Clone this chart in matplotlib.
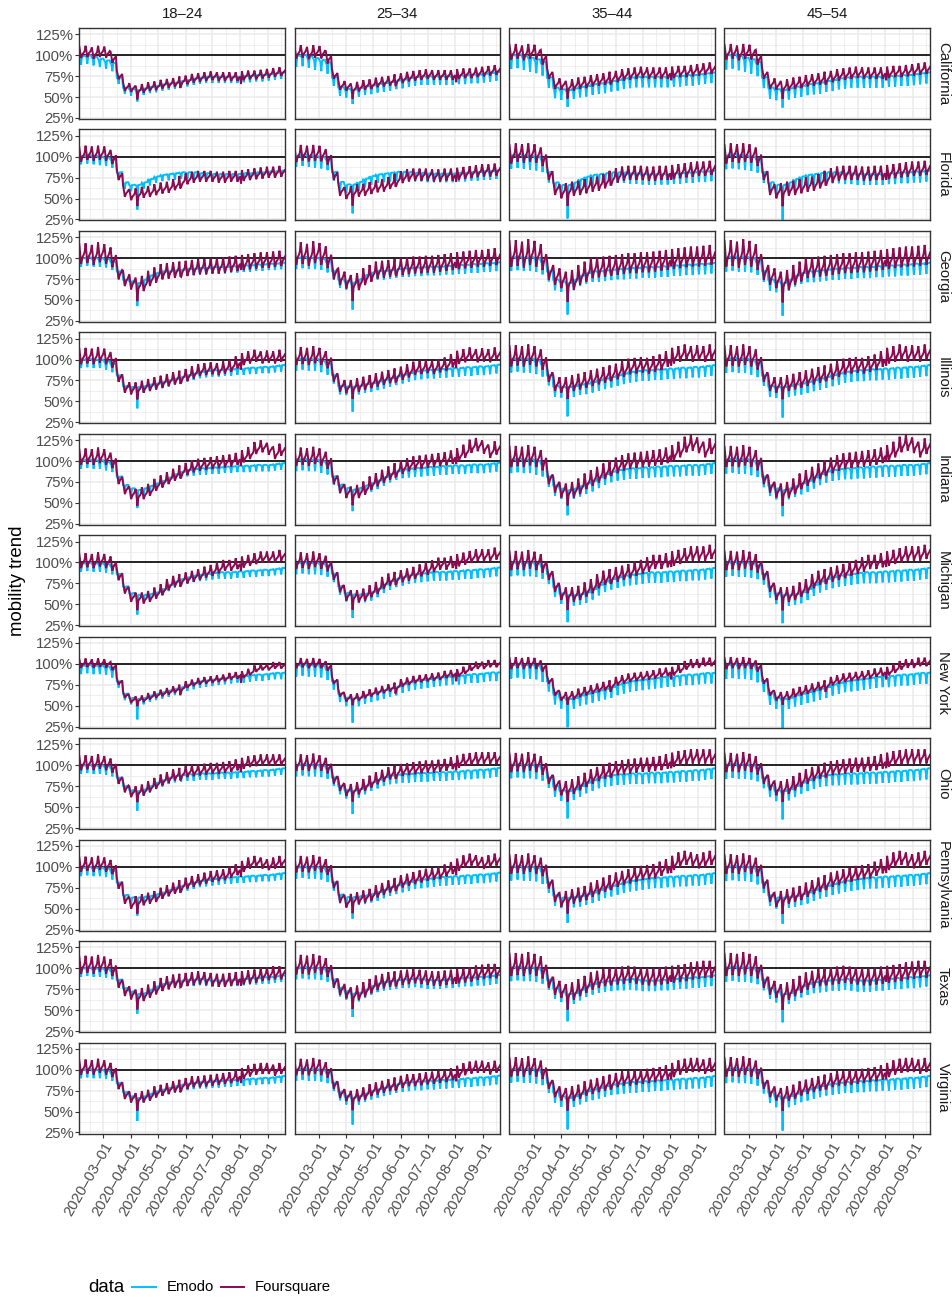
import numpy as np
import pandas as pd
import matplotlib
matplotlib.use("Agg")
import matplotlib.pyplot as plt
import matplotlib.dates as mdates
from matplotlib.lines import Line2D

plt.rcParams['font.family'] = ['Liberation Sans', 'DejaVu Sans']

# ---------------- data ----------------
STATES = ["California", "Florida", "Georgia", "Illinois", "Indiana", "Michigan",
          "New York", "Ohio", "Pennsylvania", "Texas", "Virginia"]
AGE_GROUPS = ["18\u201324", "25\u201334", "35\u201344", "45\u201354"]
START_DATE = "2020-02-03"
N_DAYS = 231

# weekly levels (%) of the 18-24 panel, weeks starting Mon 2020-02-03
emodo_weekly = {
    "California":   [97,98,96,94,92,89, 72, 60,58,57,59,61,62,64,65,66,68,69,71,72,73,73,73,73,73,73,74,74,75,75,76,77,78],
    "Florida":      [99,100,99,98,97,95, 80, 68,65,65,68,72,75,77,78,79,80,80,80,79,79,78,78,78,78,78,79,79,80,80,81,81,82],
    "Georgia":      [98,99,98,98,97,94, 83, 73,71,69,73,78,81,83,83,84,85,86,86,87,87,88,88,88,89,89,90,90,91,91,92,92,93],
    "Illinois":     [98,99,98,98,96,93, 80, 67,66,66,67,69,70,72,74,76,78,80,82,84,85,86,86,87,87,88,88,89,89,90,90,91,92],
    "Indiana":      [99,100,99,99,97,95, 80, 70,66,64,66,69,72,75,79,83,86,88,89,90,90,91,91,92,92,93,93,93,94,94,94,95,96],
    "Michigan":     [97,98,97,97,96,94, 85, 70,62,60,60,61,63,67,72,76,79,81,83,84,85,86,87,87,87,88,88,89,89,90,90,91,92],
    "New York":     [96,97,96,96,95,92, 78, 63,58,57,58,61,63,65,67,69,71,74,76,78,79,80,81,82,83,84,84,85,86,86,87,88,88],
    "Ohio":         [98,99,98,98,97,95, 84, 74,69,68,70,74,78,81,84,86,87,88,88,89,89,89,90,90,90,91,91,92,92,93,93,94,95],
    "Pennsylvania": [97,98,97,97,96,93, 80, 65,62,62,63,64,66,68,71,74,76,78,80,82,83,84,85,86,86,87,87,88,88,89,89,90,91],
    "Texas":        [98,99,98,98,97,95, 85, 75,71,68,69,73,77,80,82,83,84,85,85,86,85,84,84,84,85,85,86,87,87,88,88,89,90],
    "Virginia":     [98,99,98,98,97,95, 83, 72,67,65,67,70,73,75,77,79,81,82,83,84,84,85,85,86,86,87,87,88,88,89,89,90,91],
}
foursquare_weekly = {
    "California":   [103,104,102,104,103,97, 76, 62,61,58,60,62,63,65,66,67,69,70,72,73,74,75,74,74,74,74,75,76,76,77,78,79,80],
    "Florida":      [102,104,103,104,103,99, 78, 58,54,55,57,58,60,62,63,66,70,73,75,76,76,76,75,75,76,76,77,78,79,80,81,81,82],
    "Georgia":      [104,105,103,106,104,100, 83, 75,71,67,69,75,79,83,84,85,86,87,88,89,89,90,90,91,92,93,94,95,96,97,97,98,99],
    "Illinois":     [103,104,103,105,103,99, 80, 67,65,65,67,69,71,73,75,77,79,81,84,87,88,89,88,90,92,96,100,102,104,102,103,102,104],
    "Indiana":      [104,105,104,106,104,100, 79, 67,61,59,61,65,71,75,79,83,87,90,93,95,96,97,98,99,100,102,105,109,115,117,114,109,113],
    "Michigan":     [101,102,101,103,101,98, 85, 69,59,57,57,59,63,67,73,77,79,81,83,85,88,90,93,96,96,98,100,102,104,106,106,106,108],
    "New York":     [100,101,100,101,100,97, 79, 63,57,57,58,61,63,65,67,69,71,75,77,79,80,81,82,83,85,86,87,90,94,96,96,98,98],
    "Ohio":         [102,103,102,104,102,99, 84, 74,68,68,70,74,78,82,85,88,90,92,93,94,95,96,96,97,98,100,102,104,105,106,106,106,106],
    "Pennsylvania": [102,103,102,104,102,99, 80, 62,56,58,60,62,64,68,71,74,77,80,82,84,86,88,89,90,93,96,100,104,106,104,102,104,106],
    "Texas":        [103,104,103,105,103,100, 84, 74,70,66,68,72,76,80,82,84,85,86,87,88,87,86,85,85,86,87,88,89,90,92,93,94,94],
    "Virginia":     [102,103,102,104,102,99, 83, 71,67,65,67,69,73,75,77,79,81,83,85,85,86,87,88,89,90,92,95,98,100,101,101,99,101],
}

# day-of-week shape (%), indexed by days since START_DATE modulo 7
emodo_weekday = [1.5, 0.0, -9.0, 1.5, 2.0, 2.0, 2.0]
foursquare_weekday = [7.0, 1.0, -6.0, -3.0, -1.0, 0.0, 2.0]

# per-state size of Foursquare weekly swing, and the early-April one-day dip
foursquare_swing = [0.8, 1.0, 1.4, 1.1, 1.1, 1.0, 0.6, 1.0, 1.0, 1.2, 1.0]
emodo_april_dip = [-6, -22, -20, -18, -14, -16, -17, -16, -14, -16, -20]
foursquare_april_dip = [-6, -8, -10, -6, -6, -8, -4, -6, -8, -8, -8]

# age-group adjustments (after the March drop)
emodo_age_shift = [0, 0, -1, -1]
foursquare_age_shift = [0, 2, 4, 4]
emodo_age_swing = [0.7, 0.95, 1.15, 1.2]
foursquare_age_swing = [1.0, 1.1, 1.3, 1.3]
age_april_dip_scale = [1.0, 1.1, 1.25, 1.3]

# weekly weights: pre-drop swing factor and post-drop shift weight
pre_swing_weight = [1.3]*6 + [1.0]*27
post_shift_weight = [0]*6 + [0.5] + [1]*26

# extra single-day dips in Foursquare (day index, %)
foursquare_event_days = [113, 181]
foursquare_event_size = [-9, -10]
april_dip_day = 65

dates = pd.date_range(START_DATE, periods=N_DAYS, freq="D")
dayidx = np.arange(N_DAYS)


def series(weekly, weekday, swing, shift, dip):
    lvl = np.repeat(np.asarray(weekly, float), 7)[:N_DAYS]
    pre = np.repeat(np.asarray(pre_swing_weight, float), 7)[:N_DAYS]
    post = np.repeat(np.asarray(post_shift_weight, float), 7)[:N_DAYS]
    wd = np.asarray(weekday, float)[dayidx % 7]
    y = lvl + wd * swing * pre + shift * post
    y[april_dip_day] += dip
    return y / 100.0


EMODO_COL = "#00BFFF"
FSQ_COL = "#8B0A50"

# ---------------- layout ----------------
W, H = 953, 1297
fig = plt.figure(figsize=(W / 100, H / 100), dpi=100)

col_left = [79.3, 294.5, 509.5, 724.5]
pan_w = 205.5
row_top0, row_pitch, pan_h = 28.0, 101.45, 91.0

xmin = mdates.date2num(dates[0])
xmax = mdates.date2num(dates[-1])
month_starts = pd.date_range("2020-02-01", "2020-10-01", freq="MS")
major_x = [mdates.date2num(d) for d in month_starts if dates[0] <= d <= dates[-1]]
ms_num = [mdates.date2num(d) for d in month_starts]
minor_x = [(a + b) / 2 for a, b in zip(ms_num[:-1], ms_num[1:])]
major_y = [0.25, 0.50, 0.75, 1.00, 1.25]
minor_y = [0.375, 0.625, 0.875, 1.125]

TICK_FS = 10.7
for r, st in enumerate(STATES):
    for c, ag in enumerate(AGE_GROUPS):
        top = row_top0 + r * row_pitch
        ax = fig.add_axes([col_left[c] / W, 1 - (top + pan_h) / H, pan_w / W, pan_h / H])
        ax.set_xlim(xmin, xmax)
        ax.set_ylim(0.238, 1.325)
        for xv in minor_x:
            ax.axvline(xv, color="#EBEBEB", lw=0.55, zorder=0)
        for yv in minor_y:
            ax.axhline(yv, color="#EBEBEB", lw=0.55, zorder=0)
        for xv in major_x:
            ax.axvline(xv, color="#EBEBEB", lw=1.1, zorder=0)
        for yv in major_y:
            ax.axhline(yv, color="#EBEBEB", lw=1.1, zorder=0)
        ax.axhline(1.0, color="black", lw=1.2, zorder=2)

        ye = series(emodo_weekly[st], emodo_weekday, emodo_age_swing[c],
                    emodo_age_shift[c], emodo_april_dip[r] * age_april_dip_scale[c])
        yf = series(foursquare_weekly[st], foursquare_weekday,
                    foursquare_swing[r] * foursquare_age_swing[c],
                    foursquare_age_shift[c], foursquare_april_dip[r] * age_april_dip_scale[c])
        for dd, sz in zip(foursquare_event_days, foursquare_event_size):
            yf[dd] += sz / 100.0
        ax.plot(dates, ye, color=EMODO_COL, lw=1.4, zorder=3, solid_joinstyle="miter")
        ax.plot(dates, yf, color=FSQ_COL, lw=1.4, zorder=4, solid_joinstyle="miter")

        for sp in ax.spines.values():
            sp.set_color("#333333")
            sp.set_linewidth(1.0)
            sp.set_zorder(5)
        ax.set_xticks(major_x)
        ax.set_yticks(major_y)
        ax.tick_params(axis="both", length=2.6, width=0.8, color="#333333",
                       labelcolor="#4D4D4D", labelsize=TICK_FS, pad=1.5)
        if c == 0:
            ax.set_yticklabels([f"{int(round(v * 100))}%" for v in major_y])
        else:
            ax.tick_params(axis="y", length=0, labelleft=False)
        if r == len(STATES) - 1:
            ax.set_xticklabels([pd.Timestamp(mdates.num2date(v)).strftime("%Y\u2013%m\u2013%d") for v in major_x],
                               rotation=60, ha="right", va="top", rotation_mode="anchor")
        else:
            ax.tick_params(axis="x", length=0, labelbottom=False)

        if r == 0:
            fig.text((col_left[c] + pan_w / 2) / W, 1 - 14 / H, ag, ha="center", va="center",
                     fontsize=TICK_FS, color="#1A1A1A")
        if c == 3:
            fig.text(943 / W, 1 - (top + pan_h / 2) / H, st, ha="center", va="center",
                     rotation=-90, fontsize=TICK_FS, color="#1A1A1A")

fig.text(18 / W, 1 - 581 / H, "mobility trend", rotation=90, ha="center", va="center",
         fontsize=13.4, color="black")

# legend
ly = 1 - 1287 / H
fig.text(88 / W, ly, "data", ha="left", va="center", fontsize=13.4, color="black")
fig.add_artist(Line2D([132 / W, 156 / W], [ly, ly], color=EMODO_COL, lw=1.4))
fig.text(167 / W, ly, "Emodo", ha="left", va="center", fontsize=TICK_FS, color="black")
fig.add_artist(Line2D([221 / W, 244 / W], [ly, ly], color=FSQ_COL, lw=1.4))
fig.text(255 / W, ly, "Foursquare", ha="left", va="center", fontsize=TICK_FS, color="black")

fig.savefig("out.png", dpi=100, facecolor="white")
